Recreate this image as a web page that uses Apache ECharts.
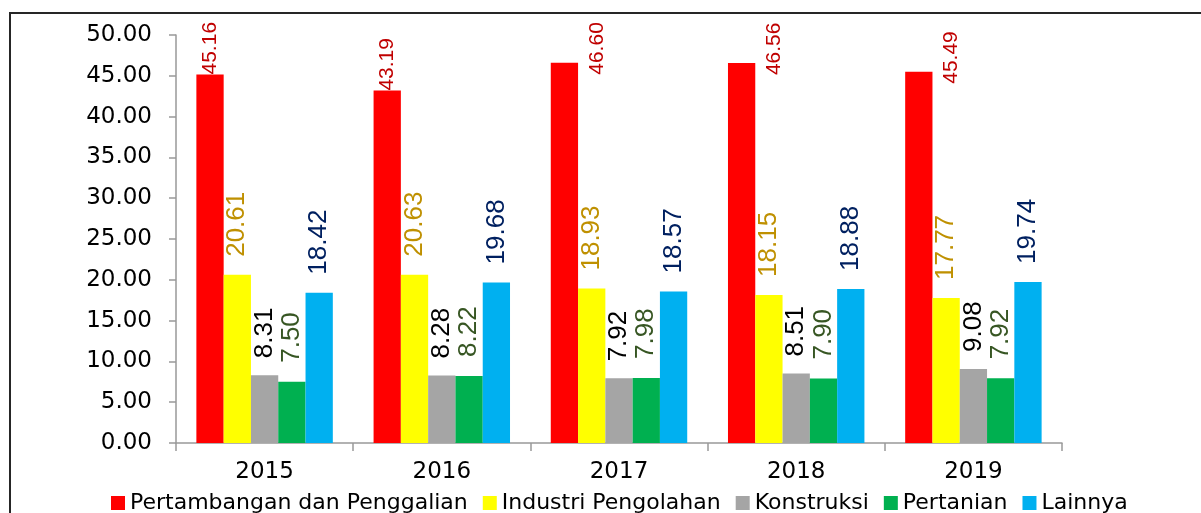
<!DOCTYPE html>
<html>
<head>
<meta charset="utf-8">
<script src="https://cdn.jsdelivr.net/npm/echarts@6/dist/echarts.min.js"></script>
<style>
  html, body { margin: 0; padding: 0; background: #fff; }
</style>
</head>
<body>
<div id="main" style="width: 1201px;height: 513px;"></div>
<script>
const years = ['2015', '2016', '2017', '2018', '2019']
const yTicks = [0, 5, 10, 15, 20, 25, 30, 35, 40, 45, 50]

const mining = [45.16, 43.19, 46.60, 46.56, 45.49]
const industry = [20.61, 20.63, 18.93, 18.15, 17.77]
const construction = [8.31, 8.28, 7.92, 8.51, 9.08]
const agriculture = [7.50, 8.22, 7.98, 7.90, 7.92]
const others = [18.42, 19.68, 18.57, 18.88, 19.74]

// red labels that would hit the top are moved to the right of the bar
const sideLabels = [2, 3, 4]

const chartDom = document.getElementById('main')
const myChart = echarts.init(chartDom)

function barLabel(color, size, distance) {
  return {
    show: true,
    position: 'top',
    distance: distance,
    rotate: 90,
    align: 'left',
    verticalAlign: 'middle',
    color: color,
    fontFamily: 'Liberation Sans',
    fontSize: size,
    formatter: p => Number(p.value).toFixed(2)
  }
}

function makeSeries(name, data, color, labelColor, size, distance) {
  return {
    name: name,
    type: 'bar',
    barGap: '0%',
    barCategoryGap: '23%',
    itemStyle: {color: color},
    label: barLabel(labelColor, size, distance),
    data: data
  }
}

const miningSeries = makeSeries('Pertambangan dan Penggalian',
    mining.map((v, i) => sideLabels.includes(i)
        ? {value: v, label: {position: [46, 12]}}
        : v),
    '#FF0000', '#C00000', 21, 0)

let option = {
  backgroundColor: '#ffffff',
  animation: false,
  textStyle: {fontFamily: 'DejaVu Sans'},
  graphic: [
    {
      type: 'rect',
      shape: {x: 10, y: 13, width: 1400, height: 700},
      style: {fill: null, stroke: '#262626', lineWidth: 2}
    }
  ],
  legend: {
    left: 106,
    top: 486,
    itemWidth: 14,
    itemHeight: 14,
    itemGap: 15,
    icon: 'rect',
    textStyle: {fontFamily: 'DejaVu Sans', fontSize: 22, color: '#000', lineHeight: 24}
  },
  grid: {
    left: 176,
    right: 139,
    top: 35,
    bottom: 70
  },
  xAxis: {
    type: 'category',
    data: years,
    axisLine: {lineStyle: {color: '#999', width: 1.5}},
    axisTick: {show: true, length: 8, lineStyle: {color: '#999', width: 1.5}},
    axisLabel: {fontFamily: 'DejaVu Sans', fontSize: 23, color: '#000', margin: 18}
  },
  yAxis: {
    type: 'value',
    min: yTicks[0],
    max: yTicks[yTicks.length - 1],
    interval: 5,
    splitLine: {show: false},
    axisLine: {show: true, lineStyle: {color: '#999', width: 1.5}},
    axisTick: {show: true, length: 7, lineStyle: {color: '#999', width: 1.5}},
    axisLabel: {
      fontFamily: 'DejaVu Sans', fontSize: 23, color: '#000', margin: 24,
      formatter: v => v.toFixed(2)
    }
  },
  series: [
    miningSeries,
    makeSeries('Industri Pengolahan', industry, '#FFFF00', '#BF9000', 26, 18),
    makeSeries('Konstruksi', construction, '#A5A5A5', '#000000', 26, 17),
    makeSeries('Pertanian', agriculture, '#00B050', '#375623', 26, 19),
    makeSeries('Lainnya', others, '#00B0F0', '#002060', 26, 18)
  ]
}
option && myChart.setOption(option)
</script>
</body>
</html>
